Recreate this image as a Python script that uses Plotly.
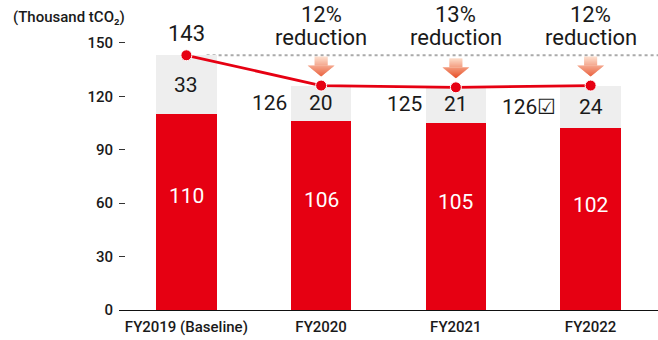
import plotly.graph_objects as go

categories = ["FY2019 (Baseline)", "FY2020", "FY2021", "FY2022"]
red_values = [110, 106, 105, 102]
grey_values = [33, 20, 21, 24]
line_values = [143, 126, 125, 126]
side_labels = ["", "126", "125", "126☑"]
reduction_pct = ["", "12%", "13%", "12%"]
y_ticks = [0, 30, 60, 90, 120, 150]

RED = "#e60012"
GREY = "#eeeeee"
TXT = "#1a1a1a"
FONT = "Roboto"

x = list(range(len(categories)))
BW = 0.45

fig = go.Figure()
fig.add_trace(go.Bar(x=x, y=red_values, width=BW, marker=dict(color=RED, line=dict(width=0)),
                     hoverinfo="skip", showlegend=False))
fig.add_trace(go.Bar(x=x, y=grey_values, width=BW, marker=dict(color=GREY, line=dict(width=0)),
                     hoverinfo="skip", showlegend=False))
fig.add_trace(go.Scatter(x=x, y=line_values, mode="lines+markers",
                         line=dict(color=RED, width=2.8),
                         marker=dict(color=RED, size=11, line=dict(color="white", width=1)),
                         hoverinfo="skip", showlegend=False))

shapes = []
# dotted baseline reference line
shapes.append(dict(type="line", xref="x", yref="y", x0=x[0] + 0.15, x1=3.5,
                   y0=line_values[0], y1=line_values[0],
                   line=dict(color="#aaaaaa", width=2, dash="dot"), layer="below"))

# gradient arrows (pixel-sized, anchored at line points)
def lerp(c1, c2, t):
    return "rgb(%d,%d,%d)" % tuple(round(a + (b - a) * t) for a, b in zip(c1, c2))

bottom_c = (232, 80, 40)
top_c = (252, 216, 196)
tip, head_top, shaft_top = 9, 20, 29
hw_head, hw_shaft = 13.5, 6.5
for i in x[1:]:
    steps = shaft_top - tip
    for k in range(steps):
        ya = tip + k
        yb = ya + 1.3
        t = k / (steps - 1)
        col = lerp(bottom_c, top_c, t)
        if ya < head_top:
            wa = hw_head * (ya - tip) / (head_top - tip)
            yb2 = min(yb, head_top)
            wb = hw_head * (yb2 - tip) / (head_top - tip)
            path = f"M{-wa},{ya} L{wa},{ya} L{wb},{yb2} L{-wb},{yb2} Z"
        else:
            yb2 = min(yb, shaft_top)
            path = f"M{-hw_shaft},{ya} L{hw_shaft},{ya} L{hw_shaft},{yb2} L{-hw_shaft},{yb2} Z"
        shapes.append(dict(type="path", xref="x", yref="y", xsizemode="pixel", ysizemode="pixel",
                           xanchor=i, yanchor=line_values[i], path=path,
                           fillcolor=col, line=dict(width=0), layer="above"))

big = dict(family=FONT, size=22, color=TXT)
ann = []
# baseline total
ann.append(dict(x=x[0], y=line_values[0], text=str(line_values[0]), showarrow=False,
                yshift=22, font=big))
for i in x[1:]:
    ann.append(dict(x=i, y=line_values[0], text=reduction_pct[i], showarrow=False,
                    yshift=41, font=big))
    ann.append(dict(x=i, y=line_values[0], text="reduction", showarrow=False,
                    yshift=18, font=big))
for i in x:
    # grey segment labels
    ann.append(dict(x=i, y=red_values[i] + grey_values[i] / 2, text=str(grey_values[i]), showarrow=False,
                    font=dict(family=FONT, size=21, color=TXT)))
    # red segment labels
    ann.append(dict(x=i, y=red_values[i] * 0.58, text=str(red_values[i]), showarrow=False,
                    font=dict(family=FONT, size=21, color="white")))
    if side_labels[i]:
        ann.append(dict(x=i - BW / 2, y=red_values[i] + grey_values[i] / 2, text=side_labels[i],
                        showarrow=False, xanchor="right", xshift=-2,
                        font=dict(family=FONT, size=21, color=TXT)))
# y axis unit title
ann.append(dict(xref="paper", yref="paper", x=0, y=1, xshift=-108, yshift=8,
                xanchor="left", yanchor="middle", text="(Thousand tCO₂)", showarrow=False,
                font=dict(family=FONT, size=15, color=TXT, weight=500)))

fig.update_layout(
    width=658, height=340,
    margin=dict(l=119, r=0, t=25, b=30, pad=0),
    paper_bgcolor="white", plot_bgcolor="white",
    barmode="stack",
    shapes=shapes, annotations=ann,
    xaxis=dict(range=[-0.5, 3.5], tickvals=x, ticktext=categories, showgrid=False,
               zeroline=False, showline=True, linecolor="#111111", linewidth=1,
               ticks="", ticklabelstandoff=3,
               tickfont=dict(family=FONT, size=15, color=TXT, weight=500)),
    yaxis=dict(range=[0, 160], tickvals=y_ticks, showgrid=False, zeroline=False,
               showline=False, ticks="inside", ticklen=6, tickcolor="#333333", tickwidth=1,
               ticklabelstandoff=5, tickfont=dict(family=FONT, size=15, color=TXT, weight=500)),
    font=dict(family=FONT),
)

fig.write_html("out.html")
